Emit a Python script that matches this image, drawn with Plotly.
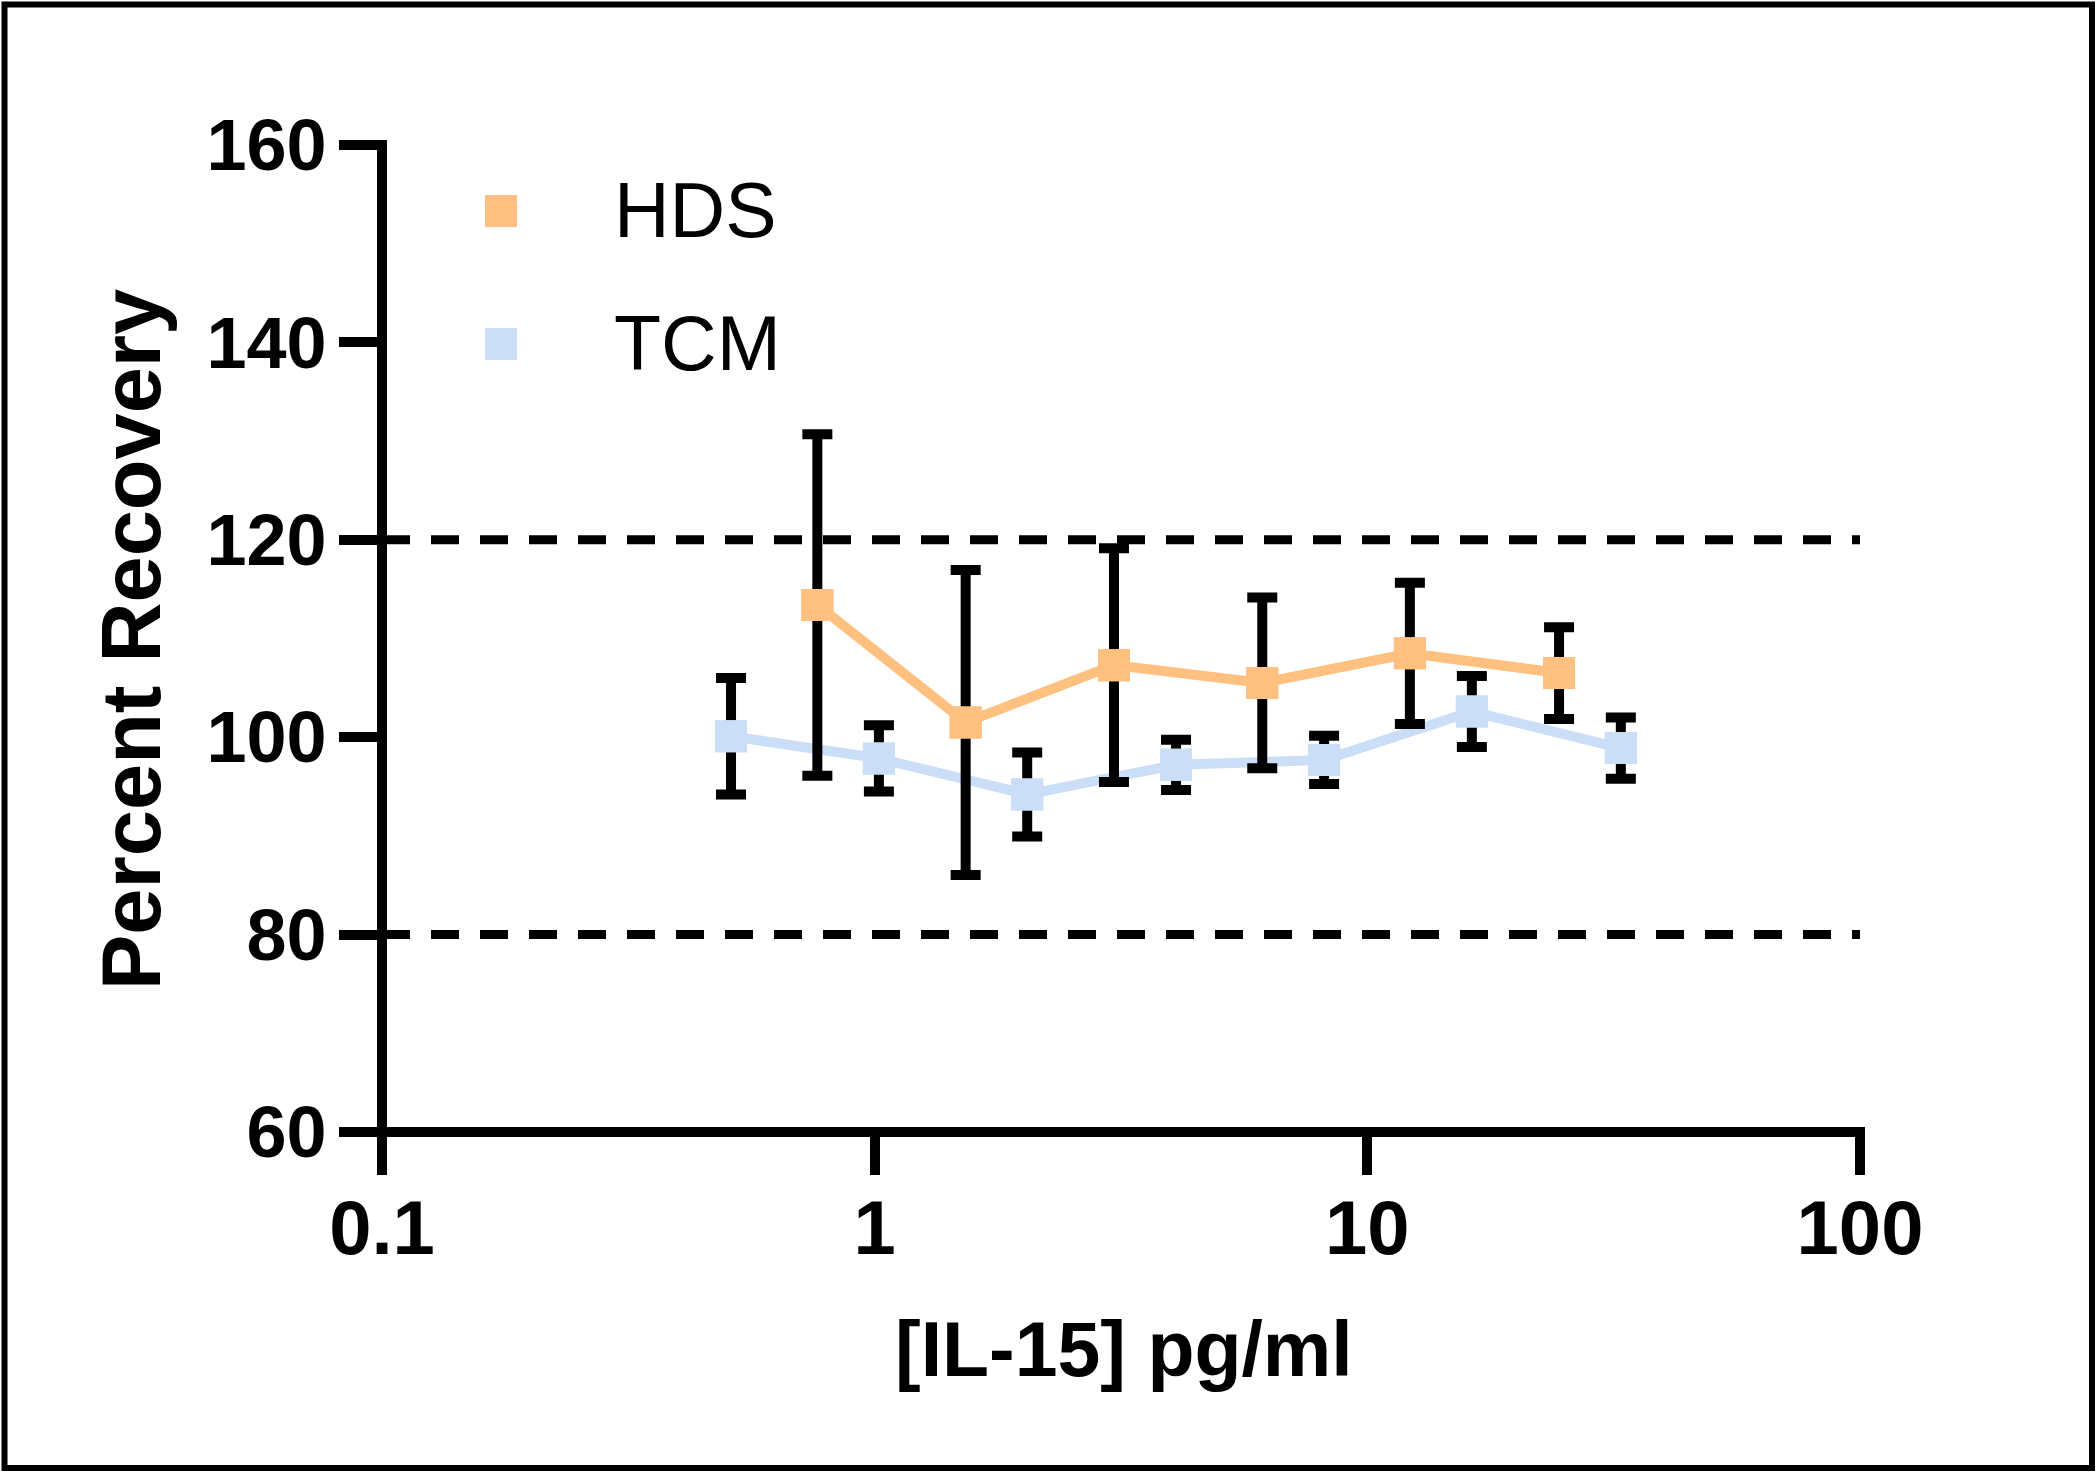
import plotly.graph_objects as go

# ---------------- data ----------------
hds_x = [0.765, 1.53, 3.06, 6.12, 12.2, 24.5]
hds_y = [113.4, 101.5, 107.3, 105.5, 108.5, 106.5]
hds_err = [17.3, 15.45, 11.85, 8.65, 7.15, 4.65]

tcm_x = [0.511, 1.02, 2.04, 4.09, 8.17, 16.3, 32.7]
tcm_y = [100.1, 97.85, 94.2, 97.2, 97.7, 102.6, 98.9]
tcm_err = [5.9, 3.35, 4.25, 2.55, 2.45, 3.6, 3.1]

ref_levels = [120, 80]
ref_x = [0.1, 100]

x_tickvals = [0.1, 1, 10, 100]
x_ticktext = ["0.1", "1", "10", "100"]
y_tickvals = [60, 80, 100, 120, 140, 160]
y_ticktext = ["60", "80", "100", "120", "140", "160"]

series_names = ["HDS", "TCM"]
series_colors = ["#FFC080", "#CADEF7"]

x_title = "[IL-15] pg/ml"
y_title = "Percent Recovery"

# ---------------- layout geometry (pixels) ----------------
W, H = 2096, 1472
L, R, T, B = 382, 236, 145, 340
PW, PH = W - L - R, H - T - B
FONT = "Liberation Sans, Arial, Helvetica, sans-serif"


def px(x):
    return (x - L) / PW


def py(y):
    return (T + PH - y) / PH


fig = go.Figure()

# reference dashed lines
for lvl in ref_levels:
    fig.add_trace(go.Scatter(
        x=ref_x, y=[lvl, lvl], mode="lines", showlegend=False, hoverinfo="skip",
        line=dict(color="black", width=9, dash="28px,21px"),
    ))

# series (TCM first so HDS error bars sit above the TCM line)
for name, xs, ys, es, col in [
    ("TCM", tcm_x, tcm_y, tcm_err, series_colors[1]),
    ("HDS", hds_x, hds_y, hds_err, series_colors[0]),
]:
    fig.add_trace(go.Scatter(
        x=xs, y=ys, name=name, mode="lines+markers", showlegend=False,
        line=dict(color=col, width=10),
        marker=dict(symbol="square", size=32, color=col, line=dict(width=0)),
        error_y=dict(type="data", array=es, visible=True, color="black",
                     thickness=10, width=15),
    ))
    fig.add_trace(go.Scatter(
        x=xs, y=ys, mode="markers", showlegend=False, hoverinfo="skip",
        marker=dict(symbol="square", size=32, color=col, line=dict(width=0)),
    ))

shapes = []
# frame around the figure
shapes.append(dict(type="rect", xref="paper", yref="paper",
                   x0=px(4.5), x1=px(W - 4), y0=py(H - 4), y1=py(4.5),
                   line=dict(color="black", width=6), fillcolor="rgba(0,0,0,0)"))
# axis lines
shapes.append(dict(type="line", xref="paper", yref="paper",
                   x0=px(L - 5), x1=px(L + PW + 5), y0=0, y1=0,
                   line=dict(color="black", width=10)))
shapes.append(dict(type="line", xref="paper", yref="paper",
                   x0=0, x1=0, y0=py(T + PH + 5), y1=py(T - 5),
                   line=dict(color="black", width=10)))

annotations = []
# manual legend
leg_y = [211, 344]
for name, col, yc in zip(series_names, series_colors, leg_y):
    shapes.append(dict(type="rect", xref="paper", yref="paper",
                       x0=px(485), x1=px(517), y0=py(yc + 16), y1=py(yc - 16),
                       line=dict(width=0), fillcolor=col))
    annotations.append(dict(text=name, xref="paper", yref="paper",
                            x=px(612), y=py(yc - 1), xanchor="left", yanchor="middle",
                            showarrow=False, font=dict(family=FONT, size=77, color="black")))

# axis titles
annotations.append(dict(text=y_title, xref="paper", yref="paper",
                        x=px(131), y=py(640), xanchor="center", yanchor="middle",
                        textangle=-90, showarrow=False,
                        font=dict(family=FONT, size=83, color="black", weight="bold")))
annotations.append(dict(text=x_title, xref="paper", yref="paper",
                        x=px(1124), y=py(1349), xanchor="center", yanchor="middle",
                        showarrow=False,
                        font=dict(family=FONT, size=77, color="black", weight="bold")))

fig.update_layout(
    width=W, height=H,
    margin=dict(l=L, r=R, t=T, b=B, pad=0),
    paper_bgcolor="white", plot_bgcolor="white",
    showlegend=False,
    shapes=shapes, annotations=annotations,
    xaxis=dict(type="log", range=[-1, 2], showgrid=False, zeroline=False, showline=False,
               tickmode="array", tickvals=x_tickvals, ticktext=x_ticktext,
               ticks="outside", ticklen=42, tickwidth=10, tickcolor="black",
               ticklabelstandoff=-12,
               tickfont=dict(family=FONT, size=76, color="black", weight="bold")),
    yaxis=dict(range=[60, 160], showgrid=False, zeroline=False, showline=False,
               tickmode="array", tickvals=y_tickvals, ticktext=y_ticktext,
               ticks="outside", ticklen=42, tickwidth=10, tickcolor="black",
               ticklabelstandoff=-2,
               tickfont=dict(family=FONT, size=72, color="black", weight="bold")),
)

fig.write_html("out.html",
               config={"displayModeBar": False},
               post_script="document.body.style.margin='0px';document.body.style.overflow='hidden';")
